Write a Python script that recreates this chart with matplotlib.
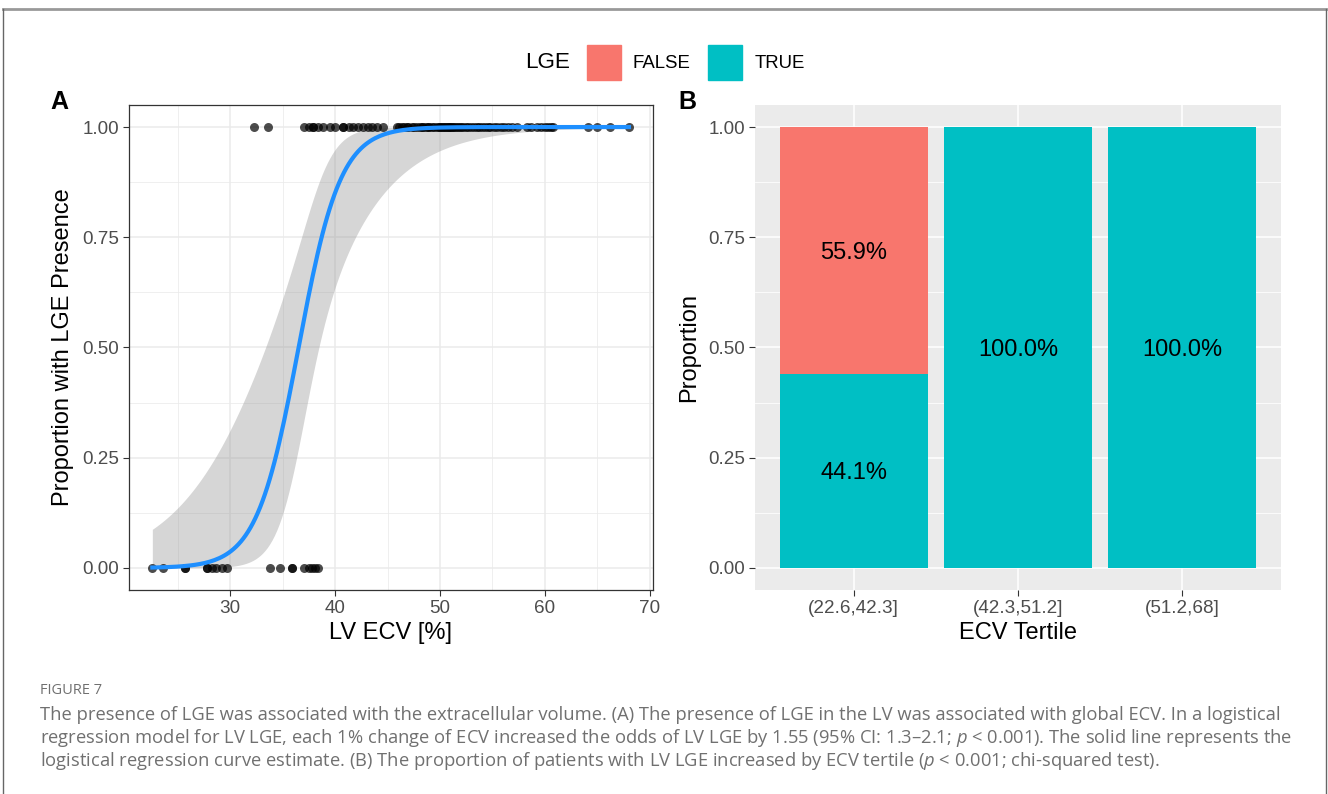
import numpy as np
import matplotlib.pyplot as plt
from matplotlib.patches import Rectangle
from matplotlib.lines import Line2D

# LV ECV [%] for patients without LGE (FALSE) and with LGE (TRUE)
ecv_false = [22.6, 23.6, 25.7, 25.7, 27.8, 27.8, 28.3, 28.7, 29.2, 29.7,
             33.8, 34.8, 35.9, 35.9, 37.0, 37.5, 37.8, 38.1, 38.4]
ecv_true = [32.3, 33.6, 37.0, 37.5, 37.9, 37.9, 38.4, 38.9, 39.5, 40.0,
            40.8, 40.8, 41.3, 41.7, 42.2,
            42.7, 43.1, 43.5, 44.0, 44.6, 45.9, 46.1, 46.4, 46.6, 46.9,
            47.0, 47.3, 47.5, 47.8, 48.1, 48.3, 48.4, 48.7, 48.9, 49.0,
            49.2, 49.4, 49.7, 49.9, 50.0, 50.2, 50.3, 50.5, 50.6, 50.8,
            50.9, 51.0, 51.1, 51.2,
            51.4, 51.6, 51.8, 52.0, 52.2, 52.5, 52.7, 53.0, 53.2, 53.5,
            53.7, 54.0, 54.3, 54.6, 54.8, 55.1, 55.4, 55.8, 56.1, 56.5,
            56.9, 57.3, 58.3, 58.7, 59.2, 59.6, 60.0, 60.3, 60.6, 60.8,
            64.1, 65.0, 66.2, 68.0]

# proportions per ECV tertile
tertiles = ['(22.6,42.3]', '(42.3,51.2]', '(51.2,68]']
prop_true = [0.441, 1.000, 1.000]
prop_false = [0.559, 0.000, 0.000]

RED = '#F8766D'
CYAN = '#00BFC4'
TXT = '#4D4D4D'

plt.rcParams['font.family'] = ['Liberation Sans', 'DejaVu Sans']

x = np.array(ecv_false + ecv_true)
y = np.array([0] * len(ecv_false) + [1] * len(ecv_true), dtype=float)

# logistic regression by IRLS
X = np.column_stack([np.ones_like(x), x])
b = np.zeros(2)
for _ in range(50):
    p = 1 / (1 + np.exp(-X @ b))
    w = p * (1 - p)
    z = X @ b + (y - p) / w
    b = np.linalg.solve(X.T @ (X * w[:, None]), X.T @ (w * z))
p = 1 / (1 + np.exp(-X @ b))
w = p * (1 - p)
cov = np.linalg.inv(X.T @ (X * w[:, None]))

xg = np.linspace(x.min(), x.max(), 200)
Xg = np.column_stack([np.ones_like(xg), xg])
eta = Xg @ b
se = np.sqrt(np.einsum('ij,jk,ik->i', Xg, cov, Xg))
expit = lambda v: 1 / (1 + np.exp(-v))
fit = expit(eta)
lo = expit(eta - 1.984 * se)
hi = expit(eta + 1.984 * se)

W, H = 1328, 794
fig = plt.figure(figsize=(W / 100, H / 100), dpi=100)

def frac(l, t, r, bt):
    return [l / W, 1 - bt / H, (r - l) / W, (bt - t) / H]

# --- panel A ---
axA = fig.add_axes(frac(128.5, 105, 652.8, 590))
axA.fill_between(xg, lo, hi, color='#999999', alpha=0.4, lw=0, zorder=2)
axA.scatter(x, y, s=42, color='black', alpha=0.7, lw=0, zorder=3)
axA.plot(xg, fit, color='#1E8FFF', lw=3, zorder=4)
axA.set_xlim(20.33, 70.27)
axA.set_ylim(-0.05, 1.05)
axA.set_xticks([30, 40, 50, 60, 70])
axA.set_xticks([25, 35, 45, 55, 65], minor=True)
axA.set_yticks([0, 0.25, 0.5, 0.75, 1.0])
axA.set_yticks([0.125, 0.375, 0.625, 0.875], minor=True)
axA.set_yticklabels(['0.00', '0.25', '0.50', '0.75', '1.00'])
axA.grid(which='major', color='#EBEBEB', lw=1.1)
axA.grid(which='minor', color='#EBEBEB', lw=0.55)
axA.set_axisbelow(True)
for s in axA.spines.values():
    s.set_color('#333333')
    s.set_linewidth(0.9)
axA.tick_params(which='major', length=4, color='#333333', labelsize=13.6,
                labelcolor=TXT, pad=3)
axA.tick_params(which='minor', length=0)
axA.set_xlabel('LV ECV [%]', fontsize=17, labelpad=4)
axA.set_ylabel('Proportion with LGE Presence', fontsize=17, labelpad=6)

# --- panel B ---
axB = fig.add_axes(frac(755, 105, 1281, 590))
axB.set_facecolor('#EBEBEB')
pos = np.arange(1, len(tertiles) + 1)
axB.bar(pos, prop_true, width=0.9, color=CYAN, zorder=2)
axB.bar(pos, prop_false, width=0.9, bottom=prop_true, color=RED, zorder=2)
for i in range(len(tertiles)):
    if prop_false[i] > 0:
        axB.text(pos[i], prop_true[i] + prop_false[i] / 2, f'{prop_false[i] * 100:.1f}%',
                 ha='center', va='center_baseline', fontsize=17, zorder=3)
    axB.text(pos[i], prop_true[i] / 2, f'{prop_true[i] * 100:.1f}%',
             ha='center', va='center_baseline', fontsize=17, zorder=3)
axB.set_xlim(0.4, 3.6)
axB.set_ylim(-0.05, 1.05)
axB.set_xticks(pos)
axB.set_xticklabels(tertiles)
axB.set_yticks([0, 0.25, 0.5, 0.75, 1.0])
axB.set_yticks([0.125, 0.375, 0.625, 0.875], minor=True)
axB.set_yticklabels(['0.00', '0.25', '0.50', '0.75', '1.00'])
axB.grid(which='major', color='white', lw=1.1)
axB.grid(which='minor', axis='y', color='white', lw=0.55)
axB.set_axisbelow(True)
for s in axB.spines.values():
    s.set_visible(False)
axB.tick_params(which='major', length=4, color='#333333', labelsize=13.6,
                labelcolor=TXT, pad=3)
axB.tick_params(which='minor', length=0)
axB.set_xlabel('ECV Tertile', fontsize=17, labelpad=4)
axB.set_ylabel('Proportion', fontsize=17, labelpad=6)

# panel tags
fig.text(50 / W, 1 - 102 / H, 'A', fontsize=18, fontweight='bold', va='center')
fig.text(678 / W, 1 - 102 / H, 'B', fontsize=18, fontweight='bold', va='center')

# legend
fig.text(548 / W, 1 - 63 / H, 'LGE', fontsize=16.2, ha='center', va='center')
fig.patches.append(Rectangle((587 / W, 1 - 80 / H), 34 / W, 35 / H,
                             transform=fig.transFigure, color=RED))
fig.text(633 / W, 1 - 63 / H, 'FALSE', fontsize=13.4, va='center')
fig.patches.append(Rectangle((708 / W, 1 - 80 / H), 34 / W, 35 / H,
                             transform=fig.transFigure, color=CYAN))
fig.text(755 / W, 1 - 63 / H, 'TRUE', fontsize=13.4, va='center')

# frame of the figure box
fig.add_artist(Line2D([3 / W, 1326 / W], [1 - 9 / H, 1 - 9 / H], color='#999999', lw=2))
fig.add_artist(Line2D([3 / W, 3 / W], [0, 1 - 9 / H], color='#666666', lw=1))
fig.add_artist(Line2D([1326 / W, 1326 / W], [0, 1 - 9 / H], color='#666666', lw=1))

# caption
plt.rcParams['mathtext.fontset'] = 'custom'
plt.rcParams['mathtext.rm'] = 'Open Sans'
plt.rcParams['mathtext.it'] = 'Open Sans:italic'
cap = '#707070'
fig.text(40 / W, 1 - 690 / H, 'FIGURE 7', fontsize=10.5, color=cap, va='center',
         family='Open Sans')
lines = [
    'The presence of LGE was associated with the extracellular volume. (A) The presence of LGE in the LV was associated with global ECV. In a logistical',
    'regression model for LV LGE, each 1% change of ECV increased the odds of LV LGE by 1.55 (95% CI: 1.3\u20132.1; $p$ < 0.001). The solid line represents the',
    'logistical regression curve estimate. (B) The proportion of patients with LV LGE increased by ECV tertile ($p$ < 0.001; chi-squared test).',
]
for i, ln in enumerate(lines):
    fig.text(40 / W, 1 - (715 + 23 * i) / H, ln, fontsize=13.2, color=cap,
             va='center', family='Open Sans')

fig.savefig('out.png', dpi=100)
